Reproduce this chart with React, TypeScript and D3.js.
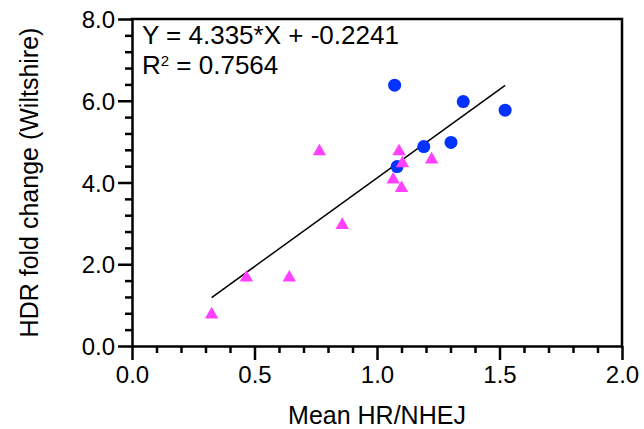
import React, { useRef, useEffect } from "react";
import * as d3 from "d3";

// blue circles
const blueX = [1.072, 1.352, 1.523, 1.191, 1.302, 1.082];
const blueY = [6.38, 5.98, 5.77, 4.88, 4.98, 4.39];
// magenta triangles
const pinkX = [0.765, 1.09, 1.104, 1.223, 1.066, 1.1, 0.858, 0.467, 0.642, 0.325];
const pinkY = [4.76, 4.76, 4.47, 4.56, 4.07, 3.86, 2.96, 1.67, 1.67, 0.77];

const xTicks = [0, 0.5, 1.0, 1.5, 2.0];
const yTicks = [0, 2, 4, 6, 8];
const xMinor = [0.1, 0.2, 0.3, 0.4, 0.6, 0.7, 0.8, 0.9, 1.1, 1.2, 1.3, 1.4, 1.6, 1.7, 1.8, 1.9];
const yMinor = [0.4, 0.8, 1.2, 1.6, 2.4, 2.8, 3.2, 3.6, 4.4, 4.8, 5.2, 5.6, 6.4, 6.8, 7.2, 7.6];

const slope = 4.335;
const intercept = -0.2241;
const rSquared = "0.7564";

const font = "'Liberation Sans', Arial, sans-serif";

const App = () => {
  const container = useRef(null);
  const width = 644;
  const height = 429;

  useEffect(() => {
    const svg = d3.select(container.current);
    svg.selectAll("*").remove();

    const x = d3.scaleLinear().domain([0, 2]).range([132, 622]);
    const y = d3.scaleLinear().domain([0, 8]).range([346, 19]);

    // minor ticks
    svg
      .append("g")
      .attr("transform", `translate(0, ${y(0)})`)
      .call(d3.axisBottom(x).tickValues(xMinor).tickSize(7).tickSizeOuter(0).tickFormat(() => ""))
      .call((g) => g.select(".domain").remove());
    svg
      .append("g")
      .attr("transform", `translate(${x(0)}, 0)`)
      .call(d3.axisLeft(y).tickValues(yMinor).tickSize(7).tickSizeOuter(0).tickFormat(() => ""))
      .call((g) => g.select(".domain").remove());

    // major axes
    const xAxis = svg
      .append("g")
      .attr("transform", `translate(0, ${y(0)})`)
      .call(d3.axisBottom(x).tickValues(xTicks).tickSize(14).tickSizeOuter(0).tickPadding(6).tickFormat(d3.format(".1f")));
    const yAxis = svg
      .append("g")
      .attr("transform", `translate(${x(0)}, 0)`)
      .call(d3.axisLeft(y).tickValues(yTicks).tickSize(14).tickSizeOuter(0).tickPadding(3).tickFormat(d3.format(".1f")));

    [xAxis, yAxis].forEach((g) => {
      g.selectAll("text").style("font-family", font).style("font-size", "24px").attr("fill", "#000");
    });
    yAxis.selectAll("text").attr("dy", "0.36em");

    svg.selectAll("g line").attr("stroke", "#000").attr("stroke-width", 2.5);
    svg.selectAll(".domain").attr("stroke", "#000").attr("stroke-width", 2.5);

    // top and right frame
    svg
      .append("path")
      .attr("d", `M${x(0)},${y(8)}H${x(2)}V${y(0)}`)
      .attr("fill", "none")
      .attr("stroke", "#000")
      .attr("stroke-width", 2.5)
      .attr("stroke-linecap", "square");

    // regression line over the data range
    const allX = blueX.concat(pinkX);
    const fitX = [d3.min(allX), d3.max(allX)];
    svg
      .append("path")
      .attr("d", d3.line()(fitX.map((v) => [x(v), y(slope * v + intercept)])))
      .attr("stroke", "#000")
      .attr("stroke-width", 1.5)
      .attr("fill", "none");

    svg
      .append("g")
      .selectAll("circle")
      .data(blueX)
      .enter()
      .append("circle")
      .attr("cx", (d) => x(d))
      .attr("cy", (d, i) => y(blueY[i]))
      .attr("r", 6.5)
      .attr("fill", "#0433ff");

    svg
      .append("g")
      .selectAll("path")
      .data(pinkX)
      .enter()
      .append("path")
      .attr("d", d3.symbol(d3.symbolTriangle, 78))
      .attr("transform", (d, i) => `translate(${x(d)}, ${y(pinkY[i])})`)
      .attr("fill", "#ff40ff");

    // equation
    const eq = svg.append("g").style("font-family", font).style("font-size", "26px").attr("fill", "#000");
    eq.append("text").attr("x", 142).attr("y", 44).text(`Y = ${slope}*X + ${intercept}`);
    const r2 = eq.append("text").attr("x", 142).attr("y", 74);
    r2.append("tspan").text("R");
    r2.append("tspan").attr("dy", -8).style("font-size", "15px").text("2");
    r2.append("tspan").attr("dy", 8).text(` = ${rSquared}`);

    // axis titles
    svg
      .append("text")
      .attr("x", (x(0) + x(2)) / 2)
      .attr("y", 424)
      .attr("text-anchor", "middle")
      .style("font-family", font)
      .style("font-size", "25px")
      .text("Mean HR/NHEJ");
    svg
      .append("text")
      .attr("transform", `translate(38, ${(y(0) + y(8)) / 2}) rotate(-90)`)
      .attr("text-anchor", "middle")
      .style("font-family", font)
      .style("font-size", "25px")
      .text("HDR fold change (Wiltshire)");
  }, []);

  return (
    <svg
      ref={container}
      width={width}
      height={height}
      style={{ position: "absolute", left: 0, top: 0, background: "#fff", display: "block" }}
    />
  );
};

export default App;
